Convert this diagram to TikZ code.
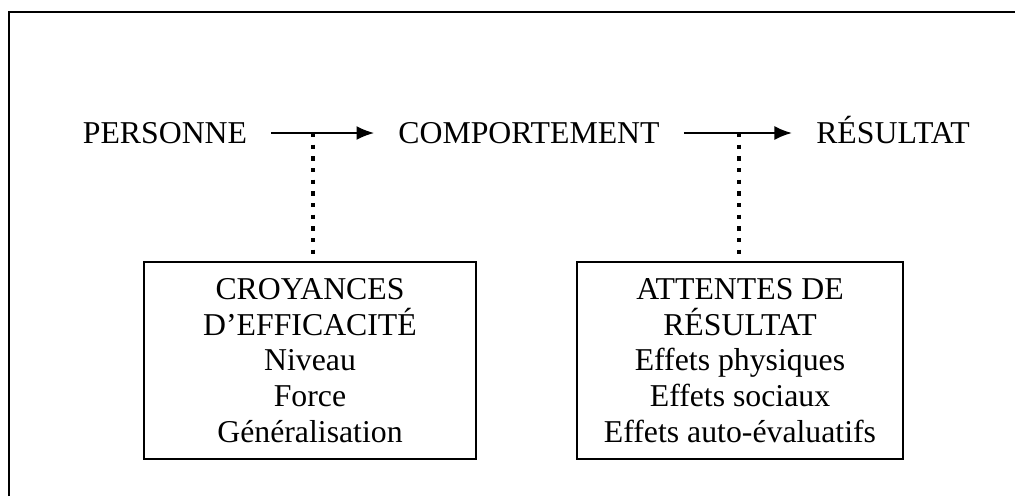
\documentclass[tikz,border=0pt]{standalone}
\usepackage{fontspec}
\setmainfont{Liberation Serif}
\usetikzlibrary{positioning,arrows.meta,calc}
\tikzset{
  flowarrow/.style={-{Latex[length=4.4mm, width=3.5mm]}, line width=1.4pt},
  linkdots/.style={line width=3pt, dash pattern=on 3pt off 5.3pt},
  stagenode/.style={inner xsep=0.6cm, inner ysep=0pt, text height=0.5cm, text depth=0pt},
  factbox/.style={draw, line width=1.2pt, minimum height=4.925cm, align=center, inner sep=0pt},
  framebox/.style={line width=1.3pt}
}

\begin{document}
\begin{tikzpicture}[x=0.025cm, y=-0.025cm, every node/.style={font=\fontsize{22.6}{25.4}\selectfont}]
  \useasboundingbox (0,0) rectangle (1015,496);
  \draw[framebox] (9,496) -- (9,12) -- (1015,12);
  % top row
  \node[stagenode] (pers) at (165,133) {PERSONNE};
  \node[stagenode] (comp) at (529,133) {COMPORTEMENT};
  \node[stagenode] (resu) at (893,133) {RÉSULTAT};
  \draw[flowarrow] (pers) -- (comp);
  \draw[flowarrow] (comp) -- (resu);
  % boxes below
  \node[factbox, minimum width=8.3cm] (croy) at (310,360.5) {CROYANCES\\D’EFFICACITÉ\\Niveau\\Force\\Généralisation};
  \node[factbox, minimum width=8.15cm] (att) at (740,360.5) {ATTENTES DE\\RÉSULTAT\\Effets physiques\\Effets sociaux\\Effets auto-évaluatifs};
  \coordinate (d1) at (313,133);
  \coordinate (d2) at (739,133);
  \draw[linkdots] (d1) -- (d1 |- croy.north);
  \draw[linkdots] (d2) -- (d2 |- att.north);
\end{tikzpicture}
\end{document}
